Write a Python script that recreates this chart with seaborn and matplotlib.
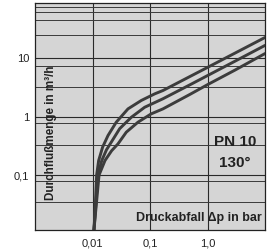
import pandas as pd
import matplotlib.pyplot as plt
import seaborn as sns
from matplotlib.ticker import FixedLocator, NullFormatter

# ============================
# Daten
# ============================
upper_dp = [0.0106, 0.0112, 0.0118, 0.0128, 0.0150, 0.0186, 0.0259, 0.0414, 0.0706, 0.121, 0.168, 0.5, 1.0, 3.0, 10.0]
upper_q = [0.0115, 0.03, 0.1, 0.177, 0.30, 0.473, 0.80, 1.35, 1.88, 2.44, 2.78, 4.85, 6.9, 12.1, 22.4]

middle_dp = [0.0106, 0.0114, 0.0124, 0.0145, 0.0175, 0.0212, 0.0297, 0.0473, 0.0809, 0.168, 0.5, 1.0, 3.0, 10.0]
middle_q = [0.0115, 0.03, 0.1, 0.177, 0.27, 0.364, 0.62, 0.97, 1.44, 2.01, 3.5, 5.0, 8.8, 16.4]

lower_dp = [0.0106, 0.0116, 0.0130, 0.0165, 0.0215, 0.0277, 0.0387, 0.0618, 0.105, 0.168, 0.5, 1.0, 3.0, 10.0]
lower_q = [0.0115, 0.03, 0.1, 0.177, 0.26, 0.34, 0.54, 0.80, 1.11, 1.35, 2.4, 3.5, 6.2, 11.9]

x_ticks = [0.01, 0.1, 1.0]
x_tick_labels = ['0,01', '0,1', '1,0']
y_ticks = [0.1, 1, 10]
y_tick_labels = ['0,1', '1', '10']
# zusätzliche horizontale Gitterlinien
y_grid_extra = [0.034, 0.08, 0.32, 0.76, 3.2, 7.3, 25, 44, 61, 74]

# ============================
# Einstellungen
# ============================
sns.set_style("white")
plt.rcParams['font.family'] = ['Liberation Sans', 'DejaVu Sans']

fig, ax = plt.subplots(figsize=(2.67, 2.5), dpi=100)
fig.subplots_adjust(left=35/267, right=265/267, top=1-3/250, bottom=1-230/250)
ax.set_facecolor('#d5d5d5')

curves = [(upper_dp, upper_q), (middle_dp, middle_q), (lower_dp, lower_q)]
for dp, q in curves:
    df = pd.DataFrame({'dp': dp, 'q': q})
    sns.lineplot(data=df, x='dp', y='q', ax=ax, color='#3c3c3c',
                 linewidth=2.1, estimator=None, sort=False)

ax.set_xscale('log')
ax.set_yscale('log')
ax.set_xlim(0.001, 10)
ax.set_ylim(0.0115, 87)

ax.xaxis.set_major_locator(FixedLocator(x_ticks))
ax.set_xticklabels(x_tick_labels)
ax.xaxis.set_minor_locator(FixedLocator([]))
ax.yaxis.set_major_locator(FixedLocator(y_ticks))
ax.set_yticklabels(y_tick_labels)
ax.yaxis.set_minor_locator(FixedLocator(y_grid_extra))
ax.yaxis.set_minor_formatter(NullFormatter())

ax.tick_params(which='both', length=0, labelsize=8, colors='#222222')
ax.tick_params(axis='x', pad=6)
ax.tick_params(axis='y', pad=4)

ax.grid(True, which='major', axis='both', color='#2a2a2a', linewidth=0.8)
ax.grid(True, which='minor', axis='y', color='#3a3a3a', linewidth=0.7)

for s in ax.spines.values():
    s.set_color('#222222')
    s.set_linewidth(0.9)

ax.set_xlabel('')
ax.set_ylabel('')

# Beschriftungen im Diagramm
ax.text(0.07, 0.43, 'Durchflußmenge in m³/h', transform=ax.transAxes,
        rotation=90, ha='center', va='center', fontsize=8.4,
        fontweight='bold', color='#222222')
ax.text(0.985, 0.053, 'Druckabfall Δp in bar', transform=ax.transAxes,
        ha='right', va='center', fontsize=9, fontweight='bold', color='#222222')
ax.text(0.87, 0.388, 'PN 10', transform=ax.transAxes,
        ha='center', va='center', fontsize=11, fontweight='bold', color='#222222')
ax.text(0.87, 0.295, '130°', transform=ax.transAxes,
        ha='center', va='center', fontsize=11, fontweight='bold', color='#222222')

plt.savefig('out.png', dpi=100)
